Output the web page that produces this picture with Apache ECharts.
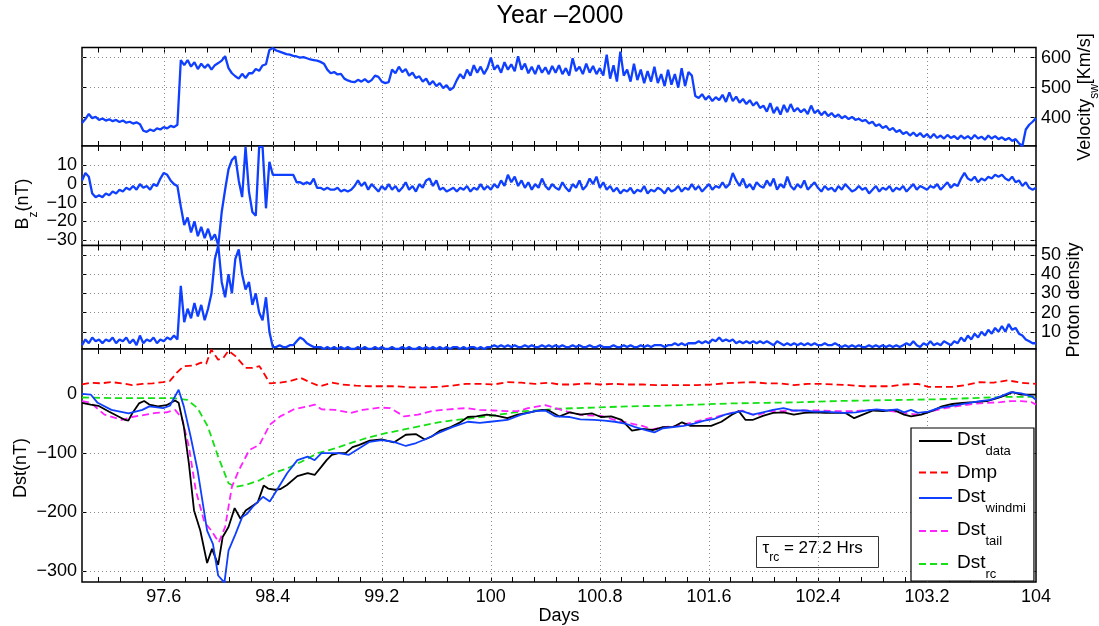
<!DOCTYPE html>
<html>
<head>
<meta charset="utf-8">
<script src="https://cdn.jsdelivr.net/npm/echarts@6/dist/echarts.min.js"></script>
<style>
  html, body { margin: 0; padding: 0; background: #fff; }
  #chart { width: 1099px; height: 626px; }
</style>
</head>
<body>
<div id="chart"></div>
<script>
// Solar wind samples: one value every 0.025 day starting at day 97.0
const swStart = 97.0;
const swStep = 0.025;

// Solar wind velocity [km/s]
const velocity = [
  382, 395, 412, 398, 402, 392, 397, 390, 394, 388,
  392, 385, 390, 383, 386, 380, 384, 378, 356, 352,
  360, 355, 364, 360, 368, 364, 372, 368, 376, 592,
  575, 592, 570, 585, 562, 580, 566, 578, 560, 575,
  582, 590, 605, 565, 548, 538, 530, 546, 532, 548,
  548, 562, 556, 574, 578, 626, 632, 624, 620, 616,
  612, 610, 606, 604, 600, 602, 598, 594, 592, 590,
  586, 580, 560, 548, 552, 544, 546, 530, 524, 520,
  518, 526, 520, 528, 518, 525, 540, 536, 520, 515,
  518, 560, 548, 570, 552, 562, 540, 550, 532, 538,
  520, 530, 510, 522, 505, 515, 498, 508, 492, 500,
  525, 545, 530, 560, 540, 575, 550, 570, 545, 565,
  600, 560, 575, 550, 585, 560, 578, 555, 605, 560,
  580, 548, 570, 545, 575, 550, 568, 545, 572, 550,
  575, 545, 565, 540, 598, 555, 570, 545, 580, 550,
  572, 545, 565, 540, 610, 530, 575, 520, 620, 540,
  560, 520, 580, 525, 560, 515, 555, 520, 570, 515,
  545, 505, 560, 510, 545, 500, 565, 505, 552, 540,
  472, 465, 478, 460, 472, 455, 468, 458, 476, 452,
  484, 455, 470, 450, 462, 445, 458, 440, 452, 432,
  440, 420, 448, 415, 435, 410, 442, 418, 445, 420,
  432, 418, 428, 412, 440, 415, 425, 408, 420, 405,
  415, 402, 410, 398, 405, 395, 402, 392, 396, 388,
  392, 380, 386, 372, 378, 365, 372, 358, 365, 352,
  358, 345, 352, 340, 350, 338, 348, 335, 345, 332,
  345, 332, 340, 330, 342, 332, 338, 328, 340, 330,
  338, 328, 342, 330, 336, 326, 340, 330, 338, 328,
  334, 325, 332, 322, 328, 314, 305, 360, 376, 386,
  398
];

// IMF Bz [nT]
const bz = [
  2, 6, 4, -5, -7, -6, -7, -5, -6, -4,
  -5, -3, -4, -2, -3, -1, -3, 0, -2, -1,
  -3, 0, -1, 3, 6, 5, 2, 0, -1, -12,
  -22, -18, -26, -20, -28, -23, -29, -24, -30, -27,
  -33, -15, -3, 8, 13, 15, 2, -7, 20, -4,
  -15, -17, 20, 20, -13, 12, 5, 5, 5, 5,
  5, 5, 5, 1, 1, 0, 1, 0, 3, -2,
  -2, -3, -2, -3, -3, -2, -4, -3, -4, -3,
  -1, 2, -1, 1, -3, 0, -2, -4, -1, -3,
  0, -3, -1, -4, -2, 1, -3, -1, -4, 0,
  -2, 2, 3, -1, 2, -3, -2, -4, -3, -2,
  -4, -2, -3, -1, -4, -2, -3, 0, -3, -1,
  -3, 0, -2, 2, -1, 5, 1, 4, -1, 2,
  -2, 1, -3, 0, -2, 3, -1, -3, 0, -2,
  -3, 1, -2, -4, 0, -2, 2, -3, -1, 3,
  0, 4, -2, 1, -3, -1, -4, -2, -5, -3,
  -4, -2, -5, -3, -4, -1, -5, -3, -4, -2,
  -3, -5, -2, -4, -3, -1, -4, -2, -3, 0,
  -3, -1, -4, -2, 0, -3, -1, -2, 1, -2,
  0, 6, 2, -1, 3, -2, 0, -3, 1, -1,
  -2, 2, -1, 3, -3, 0, -2, 4, -1, -3,
  0, -2, 2, -3, -1, 1, -2, -4, -1, -3,
  -2, -4, -1, -3, 0, -2, -4, -3, -1, -3,
  -2, -5, -3, -1, -4, -2, -3, -1, -4, -2,
  -3, -1, -4, -2, 0, -3, -1, -2, -3, -1,
  -2, 0, -3, -1, 1, -2, 0, -1, 3, 6,
  3, 2, 4, 1, 3, 2, 4, 3, 5, 4,
  5, 3, 2, 4, 1, 2, -1, 1, -2, -3,
  -2
];

// Proton density [cm^-3]
const density = [
  3, 6, 4, 7, 5, 6, 4, 6, 5, 7,
  4, 6, 5, 7, 4, 6, 3, 8, 4, 6,
  5, 7, 4, 6, 5, 7, 6, 8, 6, 34,
  15, 22, 17, 25, 18, 24, 16, 22, 30, 48,
  55, 36, 28, 40, 30, 48, 53, 40, 32, 36,
  24, 30, 20, 16, 28, 10, 2, 2, 3, 2,
  2, 3, 3, 5, 7, 6, 4, 3, 2, 2,
  2, 1, 2, 1, 2, 1, 2, 1, 2, 1,
  1, 2, 1, 2, 1, 1, 2, 1, 2, 1,
  1, 2, 1, 1, 2, 1, 2, 1, 1, 2,
  1, 2, 1, 2, 1, 2, 1, 2, 1, 2,
  2, 1, 2, 1, 2, 2, 1, 2, 1, 2,
  2, 3, 2, 3, 2, 3, 2, 3, 2, 2,
  3, 2, 3, 2, 2, 3, 2, 3, 2, 3,
  2, 3, 2, 2, 3, 2, 3, 2, 2, 3,
  2, 2, 3, 2, 2, 2, 3, 2, 2, 3,
  2, 3, 2, 2, 3, 2, 3, 2, 3, 3,
  3, 2, 3, 3, 4, 3, 4, 3, 4, 4,
  4, 5, 4, 5, 4, 6, 5, 7, 5, 6,
  5, 6, 4, 5, 4, 5, 4, 5, 4, 5,
  4, 5, 4, 3, 5, 4, 3, 4, 3, 4,
  3, 4, 3, 4, 3, 4, 3, 3, 4, 3,
  3, 4, 3, 2, 3, 2, 3, 2, 3, 2,
  2, 3, 2, 3, 2, 3, 2, 3, 2, 3,
  2, 3, 4, 3, 5, 3, 2, 4, 3, 5,
  3, 4, 3, 5, 4, 3, 5, 4, 7, 5,
  8, 6, 9, 7, 10, 8, 11, 9, 12, 10,
  13, 10, 14, 11, 12, 9, 8, 6, 5, 4,
  4
];

// Dst index and model components: [day, nT]
const dstData = [
  [97.0, -15], [97.064, -18], [97.12, -20], [97.2, -30], [97.317, -44], [97.34, -45],
  [97.368, -33], [97.418, -16], [97.456, -12], [97.494, -18], [97.557, -21], [97.62, -19],
  [97.683, -11], [97.709, -15], [97.747, -55], [97.784, -117], [97.822, -197], [97.868, -231],
  [97.918, -286], [97.954, -262], [97.999, -289], [98.032, -242], [98.075, -225], [98.12, -193],
  [98.163, -211], [98.201, -197], [98.239, -191], [98.29, -183], [98.333, -155], [98.366, -160],
  [98.416, -162], [98.454, -161], [98.504, -154], [98.58, -139], [98.656, -134], [98.707, -137],
  [98.757, -123], [98.795, -112], [98.833, -103], [98.883, -100], [98.934, -100], [98.985, -90],
  [99.035, -86], [99.111, -79], [99.199, -77], [99.288, -82], [99.376, -69], [99.452, -68],
  [99.515, -77], [99.566, -72], [99.629, -62], [99.705, -56], [99.768, -49], [99.831, -39],
  [99.894, -38], [99.97, -35], [100.046, -37], [100.122, -41], [100.197, -35], [100.286, -31],
  [100.376, -27], [100.425, -28], [100.504, -38], [100.58, -31], [100.656, -35], [100.744, -33],
  [100.808, -39], [100.883, -38], [100.959, -44], [101.035, -62], [101.111, -59], [101.187, -61],
  [101.263, -56], [101.338, -56], [101.402, -48], [101.465, -54], [101.541, -54], [101.616, -54],
  [101.692, -47], [101.768, -35], [101.819, -29], [101.869, -44], [101.92, -44], [101.996, -37],
  [102.071, -32], [102.147, -31], [102.223, -35], [102.299, -32], [102.375, -31], [102.451, -32],
  [102.526, -32], [102.602, -32], [102.666, -41], [102.729, -35], [102.805, -28], [102.88, -29],
  [102.956, -27], [103.032, -35], [103.083, -38], [103.158, -35], [103.234, -29], [103.31, -21],
  [103.386, -17], [103.462, -15], [103.538, -14], [103.639, -12], [103.715, -7], [103.79, -1],
  [103.828, 3], [103.892, -1], [104.0, -1]
];

const dmp = [
  [97.0, 16], [97.064, 19], [97.14, 18], [97.216, 20], [97.292, 18], [97.368, 15],
  [97.443, 17], [97.519, 18], [97.595, 20], [97.645, 22], [97.696, 36], [97.747, 47],
  [97.822, 48], [97.873, 53], [97.911, 51], [97.949, 75], [97.999, 58], [98.037, 61],
  [98.075, 73], [98.126, 64], [98.201, 44], [98.252, 44], [98.302, 47], [98.34, 33],
  [98.378, 18], [98.454, 19], [98.53, 22], [98.606, 27], [98.681, 19], [98.745, 13],
  [98.833, 19], [98.909, 16], [99.01, 14], [99.111, 13], [99.212, 13], [99.313, 13],
  [99.414, 11], [99.515, 11], [99.616, 12], [99.717, 14], [99.818, 17], [99.919, 17],
  [100.02, 16], [100.122, 20], [100.223, 19], [100.324, 17], [100.425, 19], [100.504, 16],
  [100.605, 16], [100.706, 18], [100.8, 16], [100.909, 17], [101.01, 16], [101.111, 16],
  [101.212, 15], [101.313, 15], [101.414, 15], [101.515, 15], [101.616, 16], [101.718, 18],
  [101.819, 19], [101.92, 20], [102.021, 18], [102.122, 18], [102.223, 15], [102.324, 17],
  [102.425, 17], [102.526, 16], [102.628, 15], [102.729, 13], [102.83, 13], [102.931, 13],
  [103.032, 16], [103.133, 17], [103.209, 12], [103.285, 12], [103.386, 12], [103.487, 15],
  [103.588, 20], [103.689, 19], [103.79, 23], [103.892, 19], [104.0, 17]
];

const dstWindmi = [
  [97.0, 0], [97.064, -1], [97.115, -15], [97.216, -27], [97.342, -33], [97.443, -27],
  [97.494, -21], [97.595, -24], [97.645, -20], [97.709, 7], [97.747, -21], [97.797, -72],
  [97.848, -129], [97.918, -231], [97.961, -254], [97.999, -307], [98.045, -319], [98.075, -265],
  [98.126, -237], [98.176, -208], [98.214, -202], [98.252, -191], [98.328, -174], [98.378, -182],
  [98.429, -163], [98.505, -134], [98.58, -112], [98.656, -106], [98.707, -112], [98.757, -100],
  [98.833, -100], [98.883, -100], [98.959, -103], [99.035, -92], [99.111, -81], [99.199, -78],
  [99.288, -81], [99.376, -88], [99.452, -83], [99.515, -77], [99.616, -66], [99.717, -56],
  [99.831, -47], [99.919, -49], [99.995, -47], [100.122, -44], [100.223, -35], [100.324, -29],
  [100.399, -28], [100.475, -38], [100.58, -39], [100.656, -43], [100.757, -44], [100.833, -45],
  [100.909, -47], [100.985, -50], [101.06, -56], [101.136, -61], [101.2, -65], [101.263, -58],
  [101.338, -56], [101.414, -54], [101.49, -50], [101.566, -45], [101.642, -42], [101.718, -35],
  [101.793, -31], [101.844, -29], [101.92, -35], [101.996, -31], [102.071, -27], [102.147, -24],
  [102.223, -28], [102.299, -28], [102.375, -30], [102.451, -30], [102.526, -31], [102.602, -32],
  [102.678, -31], [102.754, -28], [102.83, -26], [102.906, -28], [102.982, -26], [103.032, -31],
  [103.083, -27], [103.133, -32], [103.209, -30], [103.285, -24], [103.361, -21], [103.437, -18],
  [103.512, -15], [103.588, -12], [103.664, -10], [103.74, -4], [103.816, 3], [103.892, 1],
  [103.968, -4], [104.0, -10]
];

const dstTail = [
  [97.0, -12], [97.064, -15], [97.165, -35], [97.292, -44], [97.368, -39], [97.469, -35],
  [97.544, -32], [97.62, -31], [97.683, -27], [97.734, -41], [97.784, -89], [97.835, -163],
  [97.898, -217], [97.949, -231], [98.004, -251], [98.05, -225], [98.1, -157], [98.151, -129],
  [98.227, -95], [98.302, -86], [98.378, -52], [98.454, -38], [98.555, -26], [98.656, -21],
  [98.707, -18], [98.757, -26], [98.858, -27], [98.972, -32], [99.06, -27], [99.187, -23],
  [99.262, -24], [99.364, -38], [99.465, -35], [99.566, -29], [99.692, -26], [99.818, -24],
  [99.919, -27], [100.02, -28], [100.122, -29], [100.197, -29], [100.273, -24], [100.399, -19],
  [100.475, -24], [100.576, -31], [100.677, -36], [100.808, -37], [100.909, -44], [101.01, -49],
  [101.111, -54], [101.187, -60], [101.263, -56], [101.364, -54], [101.465, -49], [101.566, -43],
  [101.667, -38], [101.768, -32], [101.844, -28], [101.945, -37], [102.046, -29], [102.147, -29],
  [102.274, -28], [102.4, -28], [102.526, -29], [102.653, -29], [102.779, -27], [102.906, -28],
  [103.032, -32], [103.133, -35], [103.234, -29], [103.335, -24], [103.437, -20], [103.538, -17],
  [103.639, -15], [103.74, -14], [103.816, -12], [103.892, -12], [103.968, -14], [104.0, -18]
];

const dstRc = [
  [97.0, -6], [97.216, -7], [97.469, -7], [97.671, -7], [97.772, -10], [97.848, -24],
  [97.923, -55], [97.999, -106], [98.075, -151], [98.126, -157], [98.201, -154], [98.302, -146],
  [98.403, -134], [98.505, -126], [98.606, -115], [98.732, -100], [98.858, -92], [98.985, -82],
  [99.111, -73], [99.237, -66], [99.364, -60], [99.49, -54], [99.616, -48], [99.742, -44],
  [99.869, -41], [99.995, -37], [100.122, -33], [100.248, -29], [100.374, -27], [100.5, -25],
  [100.757, -23], [101.01, -21], [101.263, -20], [101.515, -18], [101.768, -16], [102.021, -15],
  [102.274, -14], [102.526, -12], [102.779, -11], [103.032, -10], [103.285, -9], [103.538, -7],
  [103.79, -5], [104.0, -5]
];

// Axis ticks and labels
const dayLabels = [97.6, 98.4, 99.2, 100, 100.8, 101.6, 102.4, 103.2, 104];
const dayTicks = [
  97.12, 97.28, 97.44, 97.6, 97.76, 97.92, 98.08, 98.24, 98.4, 98.56, 98.72, 98.88,
  99.04, 99.2, 99.36, 99.52, 99.68, 99.84, 100, 100.16, 100.32, 100.48, 100.64, 100.8,
  100.96, 101.12, 101.28, 101.44, 101.6, 101.76, 101.92, 102.08, 102.24, 102.4, 102.56,
  102.72, 102.88, 103.04, 103.2, 103.36, 103.52, 103.68, 103.84
];
const velTicks = [400, 500, 600];
const bzTicks = [-30, -20, -10, 0, 10];
const denTicks = [10, 20, 30, 40, 50];
const dstTicks = [-300, -200, -100, 0];

const FONT = "'Liberation Sans', Arial, Helvetica, sans-serif";
const BLUE = '#1040ff';

const toPairs = vals => vals.map((v, i) => [+(swStart + i * swStep).toFixed(3), v]);
const minusFmt = v => String(v).replace('-', '\u2212');

// Panel layout (pixels)
const panels = [
  { top: 47.5, height: 98.5 },
  { top: 146, height: 99.5 },
  { top: 245.5, height: 103.5 },
  { top: 349, height: 233 }
];
const yRanges = [[305, 634], [-33, 20.5], [1, 55], [-318, 76]];
const yTickSets = [velTicks, bzTicks, denTicks, dstTicks];
const labelSide = ['right', 'left', 'right', 'left'];

// Rotated panel titles (rich text, subscripts as small lowered runs)
const nameRich = {
  m: { fontSize: 18, lineHeight: 22, verticalAlign: 'top', fontFamily: FONT, fill: '#000' },
  s: { fontSize: 12, lineHeight: 12, padding: [13, 0, 0, 0], verticalAlign: 'top', fontFamily: FONT, fill: '#000' }
};
const yNames = [
  { text: '{m|Velocity}{s|sw}{m|[Km/s]}', x: 1087, y: 97 },
  { text: '{m|B}{s|z}{m|(nT)}', x: 25.5, y: 204 },
  { text: '{m|Proton density}', x: 1076, y: 300 },
  { text: '{m|Dst(nT)}', x: 23, y: 468 }
];

const grid = panels.map(p => ({
  left: 82, right: 63, top: p.top, height: p.height,
  show: true, borderColor: '#000', borderWidth: 1.5, backgroundColor: '#fff'
}));

const tickStyle = { inside: true, length: 5, lineStyle: { color: '#000', width: 1 } };
const labelStyle = { fontSize: 18, fontFamily: FONT, color: '#000', formatter: minusFmt };

const xAxis = [];
const yAxis = [];
panels.forEach((p, g) => {
  const isBottom = g === panels.length - 1;
  xAxis.push({
    type: 'value', gridIndex: g, min: 97, max: 104, position: 'bottom',
    axisLine: { show: false, onZero: false },
    axisTick: Object.assign({ customValues: dayTicks }, tickStyle),
    axisLabel: Object.assign({ show: isBottom, customValues: dayLabels, margin: 6 }, labelStyle),
    splitLine: { show: false },
    name: isBottom ? 'Days' : '', nameLocation: 'middle', nameGap: 25,
    nameTextStyle: { fontSize: 18, fontFamily: FONT, color: '#000' }
  });
  xAxis.push({
    type: 'value', gridIndex: g, min: 97, max: 104, position: 'top',
    axisLine: { show: false, onZero: false },
    axisTick: Object.assign({ customValues: dayTicks }, tickStyle),
    axisLabel: { show: false },
    splitLine: { show: false }
  });
  ['left', 'right'].forEach(side => {
    const labelled = side === labelSide[g];
    yAxis.push({
      type: 'value', gridIndex: g, position: side,
      min: yRanges[g][0], max: yRanges[g][1],
      axisLine: { show: false, onZero: false },
      axisTick: Object.assign({ customValues: yTickSets[g] }, tickStyle),
      axisLabel: Object.assign({ show: labelled, customValues: yTickSets[g], margin: 5 }, labelStyle),
      splitLine: { show: false }
    });
  });
});

// Dotted grid lines drawn beneath the data
function gridLines(yTicks) {
  return {
    silent: true, z: 1, symbol: ['none', 'none'], animation: false,
    label: { show: false },
    emphasis: { disabled: true },
    lineStyle: { type: [1, 3], color: '#8a8a8a', width: 1 },
    data: dayLabels.filter(d => d < 104).map(d => ({ xAxis: d }))
      .concat(yTicks.map(v => ({ yAxis: v })))
  };
}

const yIdx = g => 2 * g + (labelSide[g] === 'left' ? 0 : 1);

const series = [
  {
    name: 'Velocity', type: 'line', xAxisIndex: 0, yAxisIndex: yIdx(0),
    data: toPairs(velocity), symbol: 'none', z: 3,
    lineStyle: { color: BLUE, width: 2.3 }, markLine: gridLines(velTicks)
  },
  {
    name: 'Bz', type: 'line', xAxisIndex: 2, yAxisIndex: yIdx(1),
    data: toPairs(bz), symbol: 'none', z: 3,
    lineStyle: { color: BLUE, width: 2.3 }, markLine: gridLines(bzTicks)
  },
  {
    name: 'Density', type: 'line', xAxisIndex: 4, yAxisIndex: yIdx(2),
    data: toPairs(density), symbol: 'none', z: 3,
    lineStyle: { color: BLUE, width: 2.3 }, markLine: gridLines(denTicks)
  },
  {
    name: 'Dst_rc', type: 'line', xAxisIndex: 6, yAxisIndex: yIdx(3),
    data: dstRc, symbol: 'none', z: 3, color: '#14e014',
    lineStyle: { color: '#14e014', width: 1.8, type: [7, 4] }
  },
  {
    name: 'Dst_tail', type: 'line', xAxisIndex: 6, yAxisIndex: yIdx(3),
    data: dstTail, symbol: 'none', z: 4, color: '#ff22ff',
    lineStyle: { color: '#ff22ff', width: 1.8, type: [7, 4] }
  },
  {
    name: 'Dmp', type: 'line', xAxisIndex: 6, yAxisIndex: yIdx(3),
    data: dmp, symbol: 'none', z: 4, color: '#ff0000',
    lineStyle: { color: '#ff0000', width: 1.8, type: [7, 4] }
  },
  {
    name: 'Dst_data', type: 'line', xAxisIndex: 6, yAxisIndex: yIdx(3),
    data: dstData, symbol: 'none', z: 5, color: '#000',
    lineStyle: { color: '#000', width: 1.8 }, markLine: gridLines(dstTicks)
  },
  {
    name: 'Dst_windmi', type: 'line', xAxisIndex: 6, yAxisIndex: yIdx(3),
    data: dstWindmi, symbol: 'none', z: 6, color: BLUE,
    lineStyle: { color: BLUE, width: 1.8 }
  }
];

const legendRich = {
  m: { fontSize: 19, lineHeight: 22, verticalAlign: 'top', fontFamily: FONT, color: '#000' },
  s: { fontSize: 13, lineHeight: 13, padding: [15, 0, 0, 0], verticalAlign: 'top', fontFamily: FONT, color: '#000' },
  n: { fontSize: 19, lineHeight: 22, fontFamily: FONT, color: '#000' }
};

const nameGraphics = yNames.map(n => ({
  type: 'text', x: n.x, y: n.y, rotation: Math.PI / 2, z: 10,
  style: {
    text: n.text, rich: nameRich,
    align: 'center', verticalAlign: 'middle',
    textAlign: 'center', textVerticalAlign: 'middle'
  }
}));

const option = {
  animation: false,
  backgroundColor: '#fff',
  title: {
    text: 'Year \u20132000', left: 560, textAlign: 'center', top: 4, padding: 0,
    textStyle: { fontSize: 25, fontWeight: 'normal', fontFamily: FONT, color: '#000' }
  },
  legend: {
    data: ['Dst_data', 'Dmp', 'Dst_windmi', 'Dst_tail', 'Dst_rc'],
    orient: 'vertical', left: 911, top: 428,
    padding: [2, 8, 0, 7], itemGap: 5, itemWidth: 33, itemHeight: 14,
    borderColor: '#000', borderWidth: 1.2, backgroundColor: '#fff',
    selectedMode: false, z: 10,
    itemStyle: { color: 'transparent', borderWidth: 0, opacity: 0 },
    formatter: name => {
      const i = name.indexOf('_');
      return i < 0 ? `{n|${name}}` : `{m|${name.slice(0, i)}}{s|${name.slice(i + 1)}}`;
    },
    textStyle: { rich: legendRich }
  },
  grid, xAxis, yAxis, series,
  graphic: nameGraphics.concat([{
    type: 'group', left: 756, top: 536, z: 10,
    children: [
      { type: 'rect', shape: { x: 0, y: 0, width: 122, height: 31 },
        style: { fill: '#fff', stroke: '#333', lineWidth: 1 } },
      { type: 'text', x: 6, y: 3,
        style: {
          text: '{m|\u03c4}{s|rc}{m| = 27.2 Hrs}',
          rich: {
            m: { fontSize: 17, lineHeight: 20, verticalAlign: 'top', fontFamily: FONT, fill: '#000' },
            s: { fontSize: 12, lineHeight: 12, padding: [12, 0, 0, 0], verticalAlign: 'top', fontFamily: FONT, fill: '#000' }
          }
        } }
    ]
  }])
};

const chart = echarts.init(document.getElementById('chart'), null, { renderer: 'canvas' });
chart.setOption(option);
</script>
</body>
</html>
